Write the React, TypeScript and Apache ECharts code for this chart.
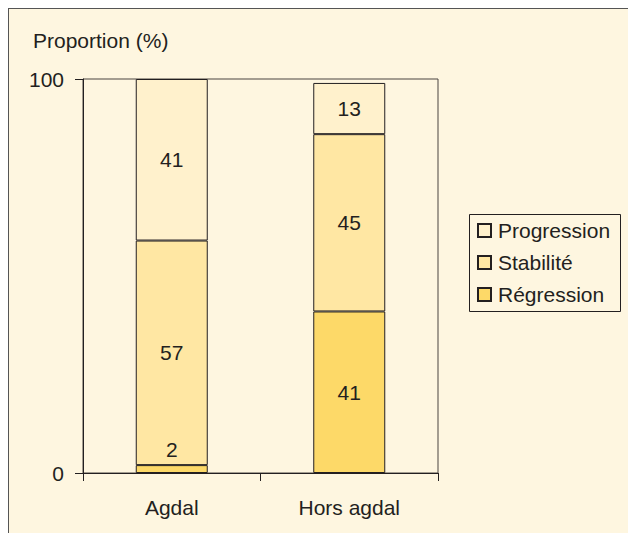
import React, { useEffect, useRef } from "react";
import * as echarts from "echarts";

const categories = ["Agdal", "Hors agdal"];
const regression = [2, 41];
const stabilite = [57, 45];
const progression = [41, 13];
const yTicks = [0, 100];
const yTitle = "Proportion (%)";

const TEXT = "#231f20";
const FONT = "'Liberation Sans', Arial, Helvetica, sans-serif";
const FS = 21;

export default function App() {
  const ref = useRef<HTMLDivElement>(null);
  useEffect(() => {
    if (!ref.current) return;
    const chart = echarts.init(ref.current, undefined, { renderer: "svg" });
    const labelBase = {
      show: true,
      fontSize: FS,
      fontFamily: FONT,
      color: TEXT,
    };
    const itemStyleFor = (c: string) => ({ color: c, borderColor: TEXT, borderWidth: 1 });
    chart.setOption({
      animation: false,
      backgroundColor: "transparent",
      textStyle: { fontFamily: FONT, color: TEXT },
      title: {
        text: yTitle,
        left: 24,
        top: 21,
        padding: 0,
        textStyle: { fontSize: FS, fontWeight: "normal", color: TEXT, fontFamily: FONT },
      },
      grid: {
        left: 74,
        top: 70,
        width: 355,
        height: 394,
        show: true,
        borderColor: "#4a4540",
        borderWidth: 1,
        backgroundColor: "transparent",
      },
      legend: {
        orient: "vertical",
        left: 468,
        top: 211,
        padding: 0,
        itemGap: 11,
        itemWidth: 13,
        itemHeight: 13,
        icon: "rect",
        data: ["Progression", "Stabilité", "Régression"],
        textStyle: { fontSize: FS, color: TEXT, fontFamily: FONT, padding: [0, 0, 0, 2] },
      },
      graphic: [
        {
          type: "rect",
          shape: { x: 460.5, y: 205.5, width: 151, height: 97 },
          style: { fill: "none", stroke: TEXT, lineWidth: 1 },
          silent: true,
        },
      ],
      xAxis: {
        type: "category",
        data: categories,
        boundaryGap: true,
        axisLine: { lineStyle: { color: TEXT, width: 1 } },
        axisTick: { show: true, length: 8, interval: 0, lineStyle: { color: TEXT } },
        axisLabel: { fontSize: FS, color: TEXT, fontFamily: FONT, margin: 24, interval: 0 },
        splitLine: { show: false },
      },
      yAxis: {
        type: "value",
        min: yTicks[0],
        max: yTicks[yTicks.length - 1],
        interval: yTicks[1] - yTicks[0],
        axisLine: { show: true, lineStyle: { color: TEXT, width: 1 } },
        axisTick: { show: true, length: 8, lineStyle: { color: TEXT } },
        axisLabel: { fontSize: FS, color: TEXT, fontFamily: FONT, margin: 19 },
        splitLine: { show: false },
      },
      series: [
        {
          name: "Régression",
          type: "bar",
          stack: "total",
          barWidth: 72,
          data: regression.map((v) => ({
            value: v,
            label: { position: v < 5 ? "top" : "inside" },
          })),
          itemStyle: itemStyleFor("#fdd968"),
          label: { ...labelBase, distance: 5 },
        },
        {
          name: "Stabilité",
          type: "bar",
          stack: "total",
          barWidth: 72,
          data: stabilite,
          itemStyle: itemStyleFor("#ffe7a3"),
          label: { ...labelBase, position: "inside" },
        },
        {
          name: "Progression",
          type: "bar",
          stack: "total",
          barWidth: 72,
          data: progression,
          itemStyle: itemStyleFor("#fff1cc"),
          label: { ...labelBase, position: "inside" },
        },
      ],
    });
    return () => chart.dispose();
  }, []);
  return (
    <div
      style={{
        width: 628,
        height: 525,
        boxSizing: "border-box",
        borderLeft: "1px solid #555",
        borderTop: "1px solid #555",
        background: "#fef6e0",
        overflow: "hidden",
      }}
    >
      <div ref={ref} style={{ width: 627, height: 524 }} />
    </div>
  );
}
